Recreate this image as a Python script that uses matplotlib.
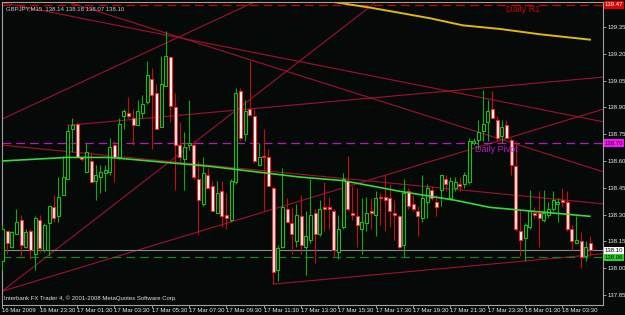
import matplotlib
matplotlib.use("Agg")
import matplotlib.pyplot as plt
import matplotlib.transforms as mtransforms

# ---------------- data (GBPJPY M15) ----------------
opens = [138.04,138.21,138.12,138.19,138.27,138.12,138.21,138.08,138.27,138.10,
         138.25,138.34,138.29,138.41,138.50,138.78,138.81,138.62,138.54,138.60,
         138.49,138.51,138.53,138.54,138.69,138.62,138.85,138.87,138.84,138.80,
         138.87,138.93,139.06,138.98,138.79,139.02,139.18,138.90,138.69,138.61,
         138.69,138.69,138.50,138.36,138.52,138.46,138.31,138.43,138.30,138.27,
         138.48,138.99,138.75,138.89,138.85,138.58,138.63,138.62,138.45,137.99,
         138.12,138.33,138.25,138.15,138.29,138.12,138.16,138.31,138.19,138.34,
         138.34,138.32,138.09,138.23,138.49,138.31,138.29,138.22,138.25,138.32,
         138.30,138.40,138.40,138.39,138.31,138.29,138.13,138.43,138.36,138.32,
         138.28,138.37,138.44,138.37,138.44,138.50,138.39,138.45,138.47,138.47,
         138.48,138.70,138.72,138.77,138.82,138.89,138.83,138.74,138.80,138.72,
         138.57,138.21,138.17,138.23,138.31,138.31,138.27,138.30,138.33,138.36,
         138.38,138.37,138.22,138.14,138.15,138.07,138.14]
highs = [138.24,138.21,138.21,138.33,138.30,138.22,138.22,138.29,138.30,138.25,
         138.35,138.41,138.51,138.63,138.80,138.84,138.82,138.62,138.70,138.65,
         138.58,138.58,138.58,138.73,138.71,138.84,138.89,138.96,138.89,138.94,
         138.97,139.16,139.12,139.03,139.19,139.33,139.19,138.98,138.82,138.76,
         138.94,138.71,138.60,138.62,138.56,138.49,138.49,138.49,138.42,138.50,
         139.01,139.01,138.94,139.16,138.89,138.70,138.78,138.67,138.46,138.13,
         138.56,138.39,138.34,138.36,138.41,138.32,138.50,138.33,138.38,138.48,
         138.40,138.33,138.30,138.53,138.63,138.46,138.45,138.39,138.40,138.39,
         138.43,138.42,138.52,138.47,138.38,138.30,138.50,138.45,138.41,138.35,
         138.52,138.47,138.46,138.41,138.52,138.52,138.51,138.51,138.51,138.54,
         138.73,138.73,138.83,139.00,138.94,138.99,138.85,138.83,138.83,138.73,
         138.71,138.33,138.25,138.44,138.34,138.43,138.44,138.37,138.43,138.39,
         138.45,138.43,138.24,138.29,138.20,138.15,138.18]
lows = [137.99,138.08,138.11,138.19,138.07,138.11,138.05,137.99,138.09,138.09,
        138.07,138.26,138.26,138.41,138.50,138.65,138.62,138.60,138.54,138.48,
        138.38,138.42,138.43,138.52,138.48,138.61,138.78,138.84,138.69,138.80,
        138.84,138.92,138.67,138.78,138.79,139.02,138.82,138.44,138.60,138.44,
        138.66,138.50,138.19,138.35,138.45,138.32,138.31,138.23,138.22,138.26,
        138.47,138.72,138.71,138.86,138.59,138.58,138.32,138.46,137.91,137.93,
        138.11,138.26,138.08,138.12,138.08,137.96,138.14,138.03,138.18,138.21,
        138.22,138.06,138.05,138.22,138.32,138.27,138.12,138.08,138.21,138.22,
        138.18,138.24,138.21,138.23,138.16,138.11,138.06,138.33,138.32,138.18,
        138.26,138.28,138.38,138.29,138.35,138.43,138.38,138.43,138.43,138.45,
        138.47,138.69,138.67,138.71,138.71,138.84,138.71,138.70,138.73,138.52,
        138.21,138.07,138.04,138.22,138.28,138.12,138.26,138.28,138.32,138.26,
        138.34,138.21,138.10,138.14,138.00,138.04,138.07]
closes = [138.22,138.14,138.20,138.26,138.13,138.20,138.10,138.28,138.11,138.24,
          138.35,138.28,138.40,138.51,138.77,138.80,138.62,138.61,138.65,138.48,
          138.52,138.54,138.55,138.68,138.62,138.81,138.88,138.85,138.80,138.88,
          138.92,139.08,138.97,138.78,139.03,139.19,138.91,138.69,138.62,138.68,
          138.70,138.51,138.38,138.53,138.45,138.32,138.42,138.29,138.28,138.49,
          138.98,138.73,138.88,138.86,138.60,138.62,138.62,138.46,137.98,138.11,
          138.34,138.26,138.19,138.30,138.13,138.18,138.30,138.19,138.33,138.33,
          138.33,138.10,138.22,138.50,138.33,138.30,138.24,138.26,138.31,138.31,
          138.39,138.39,138.38,138.32,138.30,138.12,138.42,138.35,138.33,138.29,
          138.39,138.45,138.39,138.34,138.52,138.47,138.49,138.48,138.46,138.52,
          138.71,138.71,138.76,138.81,138.88,138.84,138.73,138.79,138.73,138.58,
          138.22,138.16,138.24,138.32,138.30,138.28,138.31,138.33,138.38,138.37,
          138.37,138.22,138.15,138.16,138.06,138.12,138.10]

time_labels = ["16 Mar 2009", "16 Mar 23:30", "17 Mar 01:30", "17 Mar 03:30",
               "17 Mar 05:30", "17 Mar 07:30", "17 Mar 09:30", "17 Mar 11:30",
               "17 Mar 13:30", "17 Mar 15:30", "17 Mar 17:30", "17 Mar 19:30",
               "17 Mar 21:30", "17 Mar 23:30", "18 Mar 01:30", "18 Mar 03:30"]
label_bars = [0, 8, 16, 24, 32, 40, 48, 56, 64, 72, 80, 88, 96, 104, 112, 120]
price_ticks = [137.85, 138.00, 138.15, 138.30, 138.45, 138.60, 138.75,
               138.90, 139.05, 139.20, 139.35]

# moving averages (bar index, price)
ma_green_x = [-0.1, 13.8, 23.0, 31.6, 44.5, 63.7, 73.0, 85.2, 97.0, 104.5, 113.0, 125.9]
ma_green_y = [138.60, 138.62, 138.62, 138.60, 138.57, 138.51, 138.49, 138.43, 138.38, 138.34, 138.32, 138.29]
ma_gold_x = [71.2, 78.7, 85.2, 91.6, 98.7, 106.6, 115.2, 125.9]
ma_gold_y = [139.49, 139.46, 139.43, 139.40, 139.36, 139.34, 139.31, 139.28]

# trend lines: (x0, y0, x1, y1) in bar index / price
trend_lines = [
    (-0.5, 139.49, 128.7, 138.82),
    (13.0, 139.50, 128.7, 138.54),
    (-0.5, 138.83, 53.9, 139.49),
    (-0.1, 137.87, 80.0, 139.49),
    (-0.1, 137.87, 128.7, 138.89),
    (58.0, 137.91, 128.7, 138.08),
    (-0.5, 138.69, 128.7, 138.36),
    (14.0, 138.80, 128.7, 139.07),
]

daily_r1 = 139.475
daily_pivot = 138.70
support_level = 138.06
bid = 138.10

# ---------------- figure ----------------
BG = "#050a08"
W, H = 625, 315
fig = plt.figure(figsize=(W / 100, H / 100), dpi=100, facecolor=BG)
ax = fig.add_axes([2 / W, 10 / H, 601 / W, 303 / H], facecolor=BG)
FONT = "Liberation Sans"
FS = 4.3

xmin, xmax = -0.1, 128.7
ax.set_xlim(xmin, xmax)
ax.set_ylim(137.793, 139.491)

# trend lines
for (x0, y0, x1, y1) in trend_lines:
    ax.plot([x0, x1], [y0, y1], color="#a3102e", lw=0.8, zorder=1)

# horizontal levels
ax.axhline(daily_r1, color="#d00000", lw=0.9, dashes=(7, 4), zorder=1)
ax.axhline(daily_pivot, color="#b818b8", lw=0.9, dashes=(7, 4), zorder=1)
ax.axhline(support_level, color="#1f7d1f", lw=0.9, dashes=(7, 4), zorder=1)
ax.axhline(bid, color="#8a8a8a", lw=0.8, zorder=1)

# moving averages
ax.plot(ma_gold_x, ma_gold_y, color="#e0b810", lw=1.4, zorder=2)

# candles
n = len(opens)
for i in range(n):
    o, h, l, c = opens[i], highs[i], lows[i], closes[i]
    bull = c > o
    wick_col = "#14a814" if bull else "#c01010"
    ax.vlines(i, l, h, color=wick_col, lw=0.8, zorder=3)
    lo, hi = min(o, c), max(o, c)
    hgt = max(hi - lo, 0.008)
    if bull:
        ax.bar(i, hgt, bottom=lo, width=0.62, facecolor=BG,
               edgecolor="#18c018", lw=0.8, zorder=4)
    else:
        ax.bar(i, hgt, bottom=lo, width=0.62, facecolor="#ffffff",
               edgecolor="#ff2020", lw=0.8, zorder=4)

ax.plot(ma_green_x, ma_green_y, color="#38d838", lw=1.2, zorder=5)

# spines
for s in ax.spines.values():
    s.set_color("#a0a0a0")
    s.set_linewidth(0.8)

# axes ticks
ax.yaxis.tick_right()
ax.set_yticks(price_ticks)
ax.set_yticklabels([f"{p:.2f}" for p in price_ticks])
ax.tick_params(axis="y", colors="#a0a0a0", labelcolor="#e8e8e8", length=2,
               width=0.7, pad=1, labelsize=FS)
ax.set_xticks(label_bars)
ax.set_xticklabels(time_labels)
ax.tick_params(axis="x", colors="#a0a0a0", labelcolor="#e8e8e8", length=2,
               width=0.7, pad=0.5, labelsize=FS)
for lab in ax.get_xticklabels():
    lab.set_horizontalalignment("left")
    lab.set_fontfamily(FONT)
for lab in ax.get_yticklabels():
    lab.set_fontfamily(FONT)

# price boxes on the right axis
tr = mtransforms.blended_transform_factory(ax.transAxes, ax.transData)
boxes = [(daily_r1, "#e00000", "#ffffff"), (daily_pivot, "#ff10ff", "#000000"),
         (bid, "#ffffff", "#000000"), (support_level, "#30d030", "#000000")]
for val, bg, fg in boxes:
    ax.text(1.003, val, f"{val:.2f}", transform=tr, fontsize=FS, family=FONT,
            color=fg, va="center", ha="left", clip_on=False, zorder=10,
            bbox=dict(boxstyle="square,pad=0.2", facecolor=bg, edgecolor="none"))

# texts
ax.text(107.9, 139.45, "Daily R1", color="#d00000",
        fontsize=6.5, family=FONT, va="center", ha="left", zorder=6)
ax.text(101.3, daily_pivot - 0.035, "Daily Pivot", color="#b818c8",
        fontsize=6.5, family=FONT, va="center", ha="left", zorder=6)
ax.text(0.006, 0.987, "GBPJPY,M15  138.14 138.18 138.07 138.10", transform=ax.transAxes,
        color="#c8c8c8", fontsize=FS, family=FONT, va="top", ha="left", zorder=7)
ax.text(0.004, 0.012, "Interbank FX Trader 4, \u00a9 2001-2008 MetaQuotes Software Corp.",
        transform=ax.transAxes, color="#e0e0e0", fontsize=FS, family=FONT,
        va="bottom", ha="left", zorder=7)

fig.savefig("out.png", dpi=100, facecolor=BG)
